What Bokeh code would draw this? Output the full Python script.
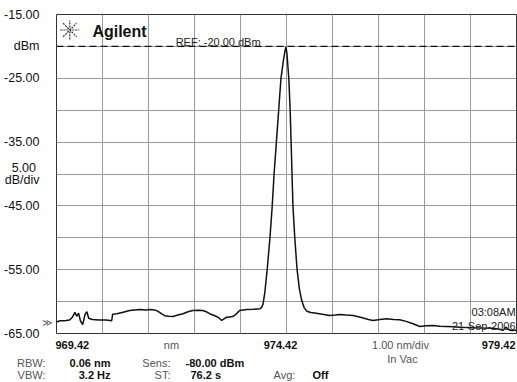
from bokeh.plotting import figure
from bokeh.models import (Range1d, FixedTicker, Span, Label, NumeralTickFormatter,
                          LinearAxis)
from bokeh.layouts import column
from bokeh.embed import file_html
from bokeh.resources import INLINE

# ---- data (optical spectrum) ----
wavelength_nm = [
    969.42, 969.50, 969.60, 969.70, 969.76, 969.82, 969.86, 969.90, 969.94, 969.99,
    970.04, 970.08, 970.12, 970.20, 970.35, 970.50, 970.62, 970.64, 970.73, 970.85,
    971.01, 971.12, 971.23, 971.35, 971.45, 971.55, 971.62, 971.70, 971.77, 971.86,
    971.95, 972.06, 972.17, 972.28, 972.38, 972.50, 972.60, 972.68, 972.75, 972.82,
    972.90, 972.96, 973.01, 973.06, 973.12, 973.18, 973.25, 973.32, 973.40, 973.48,
    973.55, 973.70, 973.84, 973.88, 973.91, 973.95, 974.00, 974.06, 974.11, 974.15,
    974.20, 974.25, 974.30, 974.35, 974.39, 974.41, 974.43, 974.47, 974.50, 974.52,
    974.54, 974.56, 974.60, 974.65, 974.70, 974.75, 974.80, 974.86, 974.95, 975.07,
    975.20, 975.36, 975.48, 975.58, 975.72, 975.87, 976.05, 976.20, 976.30, 976.45,
    976.59, 976.75, 976.88, 977.02, 977.17, 977.25, 977.32, 977.45, 977.61, 977.75,
    977.90, 978.05, 978.19, 978.35, 978.48, 978.70, 978.91, 979.02, 979.13, 979.19,
    979.23, 979.30, 979.42,
]
power_dbm = [
    -63.2, -63.0, -63.0, -62.9, -62.5, -61.7, -62.3, -61.8, -63.0, -63.6,
    -62.0, -61.6, -62.6, -62.8, -62.9, -62.9, -63.0, -62.0, -61.9, -61.7,
    -61.4, -61.3, -61.24, -61.3, -61.24, -61.3, -61.5, -61.9, -62.2, -62.3,
    -62.34, -62.1, -61.9, -61.6, -61.4, -61.35, -61.4, -61.6, -61.9, -62.1,
    -62.34, -62.6, -62.96, -62.7, -62.45, -62.4, -62.34, -62.0, -61.4, -61.3,
    -61.24, -61.2, -61.13, -60.9, -60.4, -58.5, -55.0, -50.0, -45.0, -40.0,
    -35.0, -30.0, -25.0, -22.3, -20.6, -20.1, -21.2, -25.0, -30.0, -35.0,
    -40.0, -45.0, -50.0, -55.0, -58.0, -59.8, -60.9, -61.5, -61.7, -61.82,
    -62.0, -62.18, -62.1, -62.02, -62.1, -62.18, -62.5, -62.8, -62.96, -62.8,
    -62.70, -62.8, -62.85, -63.1, -63.48, -63.7, -63.90, -63.8, -63.75, -63.85,
    -63.90, -63.95, -64.01, -64.05, -64.11, -64.15, -64.17, -64.3, -64.5, -64.0,
    -64.3, -64.53, -64.5,
]

x_start, x_stop = 969.42, 979.42
y_top, y_bottom = -15.0, -65.0
ref_level = -20.0
x_grid = [969.42, 970.42, 971.42, 972.42, 973.42, 974.42, 975.42, 976.42, 977.42, 978.42, 979.42]
y_grid = [-15, -20, -25, -30, -35, -40, -45, -50, -55, -60, -65]
y_label_ticks = [-15, -20, -25, -35, -39, -41, -45, -55, -65]
y_label_overrides = {-20: "dBm", -39: "5.00\u00a0", -41: "dB/div"}
x_tick_labels = ["969.42", "974.42", "979.42"]
marker_level = -63.2

FONT = "Liberation Sans"

p = figure(width=517, height=340, output_backend="svg", toolbar_location=None,
           x_range=Range1d(x_start, x_stop), y_range=Range1d(y_bottom, y_top),
           x_axis_location=None,
           min_border_left=56, min_border_right=1, min_border_top=14,
           min_border_bottom=7, background_fill_color="white",
           border_fill_color="white", outline_line_color="#333333",
           outline_line_width=1)
p.frame_align = False

p.xgrid.ticker = FixedTicker(ticks=x_grid)
p.ygrid.ticker = FixedTicker(ticks=y_grid)
for g in (p.xgrid, p.ygrid):
    g.grid_line_color = "#9a9a9a"
    g.grid_line_width = 1

ya = p.yaxis[0]
ya.ticker = FixedTicker(ticks=y_label_ticks)
ya.formatter = NumeralTickFormatter(format="0.00")
ya.major_label_overrides = y_label_overrides
ya.axis_line_color = None
ya.major_tick_line_color = None
ya.minor_tick_line_color = None
ya.major_tick_out = 0
ya.major_tick_in = 0
ya.major_label_standoff = 0
ya.major_label_text_font = FONT
ya.major_label_text_font_size = "12.5px"
ya.major_label_text_color = "#111111"

# trace-start marker (≫) as a small axis right next to the frame
chev = LinearAxis(ticker=FixedTicker(ticks=[marker_level]),
                  major_label_overrides={marker_level: "\u226b"},
                  axis_line_color=None, major_tick_line_color=None,
                  minor_tick_line_color=None, major_tick_out=0, major_tick_in=0,
                  major_label_standoff=4, major_label_text_font="DejaVu Sans",
                  major_label_text_font_size="10px",
                  major_label_text_color="#555555")
p.left = [chev] + list(p.left)

p.add_layout(Span(location=ref_level, dimension="width", line_color="#111111",
                  line_dash="7 4", line_width=1.3))

p.line(wavelength_nm, power_dbm, line_color="#111111", line_width=1.5)

# logo
p.scatter([969.71], [-17.43], marker="asterisk", size=19, line_color="#333333",
          line_width=1.2, line_dash="2 1")


def lab(fig, x, y, text, align="left", size="11px", color="#222222", style="normal"):
    fig.add_layout(Label(x=x, y=y, text=text, text_align=align, text_baseline="middle",
                         text_font=FONT, text_font_size=size, text_color=color,
                         text_font_style=style))


lab(p, 970.20, -17.66, "Agilent", size="16px", color="#111111", style="bold")
lab(p, 972.01, -19.34, "REF: -20.00 dBm", color="#222222")
lab(p, 979.40, -61.66, "03:08AM", align="right", color="#222222")
lab(p, 979.40, -63.75, "21-Sep-2006", align="right", color="#222222")

# ---- info strip below the trace (coordinates in pixels of the strip) ----
q = figure(width=517, height=42, output_backend="svg", toolbar_location=None,
           x_range=Range1d(0, 517), y_range=Range1d(42, 0),
           x_axis_location=None, y_axis_location=None,
           min_border_left=0, min_border_right=0, min_border_top=0,
           min_border_bottom=0, outline_line_color=None,
           background_fill_color="white", border_fill_color="white")
q.frame_align = False
q.grid.visible = False

row1, row_vac, row2, row3 = 4, 18, 22, 34
DARK, GREY = "#111111", "#555555"
lab(q, 55, row1, x_tick_labels[0], color=DARK, style="bold")
lab(q, 171, row1, "nm", align="center", color=GREY)
lab(q, 280, row1, x_tick_labels[1], align="center", color=DARK, style="bold")
lab(q, 400, row1, "1.00 nm/div", align="center", color=GREY)
lab(q, 515, row1, x_tick_labels[2], align="right", color=DARK, style="bold")
lab(q, 402, row_vac, "In Vac", align="center", color=GREY)

lab(q, 45, row2, "RBW:", align="right", color=GREY)
lab(q, 110, row2, "0.06 nm", align="right", color=DARK, style="bold")
lab(q, 170, row2, "Sens:", align="right", color=GREY)
lab(q, 185, row2, "-80.00 dBm", color=DARK, style="bold")
lab(q, 45, row3, "VBW:", align="right", color=GREY)
lab(q, 110, row3, "3.2 Hz", align="right", color=DARK, style="bold")
lab(q, 170, row3, "ST:", align="right", color=GREY)
lab(q, 190, row3, "76.2 s", color=DARK, style="bold")
lab(q, 273, row3, "Avg:", color=GREY)
lab(q, 312, row3, "Off", color=DARK, style="bold")

layout = column(p, q, spacing=0)
open("out.html", "w").write(file_html(layout, INLINE))
